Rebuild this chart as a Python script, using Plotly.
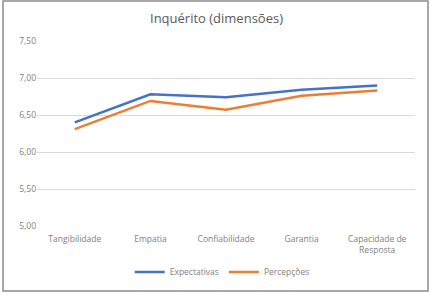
import plotly.graph_objects as go

categories = ["Tangibilidade", "Empatia", "Confiabilidade", "Garantia", "Capacidade de<br>Resposta"]
expectativas = [6.40, 6.78, 6.74, 6.84, 6.90]
percepcoes = [6.31, 6.69, 6.57, 6.76, 6.83]
y_ticks = [5.0, 5.5, 6.0, 6.5, 7.0, 7.5]

W, H = 433, 294
L, R, T, B = 37, 18, 41, 68
pw, ph = W - L - R, H - T - B

fig = go.Figure()
fig.add_trace(go.Scatter(x=categories, y=expectativas, name="Expectativas", mode="lines",
                         line=dict(color="#4472C4", width=2.5)))
fig.add_trace(go.Scatter(x=categories, y=percepcoes, name="Percepções", mode="lines",
                         line=dict(color="#ED7D31", width=2.5)))

def px_x(x):
    return (x - L) / pw

def px_y(y):
    return (H - B - y) / ph

fig.update_layout(
    width=W, height=H,
    margin=dict(l=L, r=R, t=T, b=B, autoexpand=False),
    paper_bgcolor="white", plot_bgcolor="white",
    separators=",.",
    font=dict(family="Open Sans", size=9, color="#7f7f7f"),
    title=dict(text="Inquérito (dimensões)", x=0.5, xanchor="center", y=1 - 18 / H, yanchor="middle",
               font=dict(size=13, color="#595959")),
    xaxis=dict(range=[-0.5, 4.5], showgrid=False, showline=False, ticks="", automargin=False,
               ticklabelstandoff=6, tickfont=dict(size=8.5, color="#7f7f7f")),
    yaxis=dict(range=[5.0, 7.5], tickvals=y_ticks, tickformat=".2f", showgrid=True, automargin=False,
               gridcolor="#d9d9d9", gridwidth=1, zeroline=False, showline=False,
               tickfont=dict(size=8.5, color="#7f7f7f")),
    legend=dict(orientation="h", x=0.49, xanchor="center", yref="container", y=1 - 272 / H,
                yanchor="middle", font=dict(size=8.5, color="#7f7f7f"), itemwidth=30),
    showlegend=True,
    shapes=[dict(type="rect", xref="paper", yref="paper",
                 x0=px_x(3), x1=px_x(428), y0=px_y(291), y1=px_y(1),
                 line=dict(color="#8c8c8c", width=1.5), fillcolor="rgba(0,0,0,0)", layer="below")],
)

fig.write_html("out.html")
